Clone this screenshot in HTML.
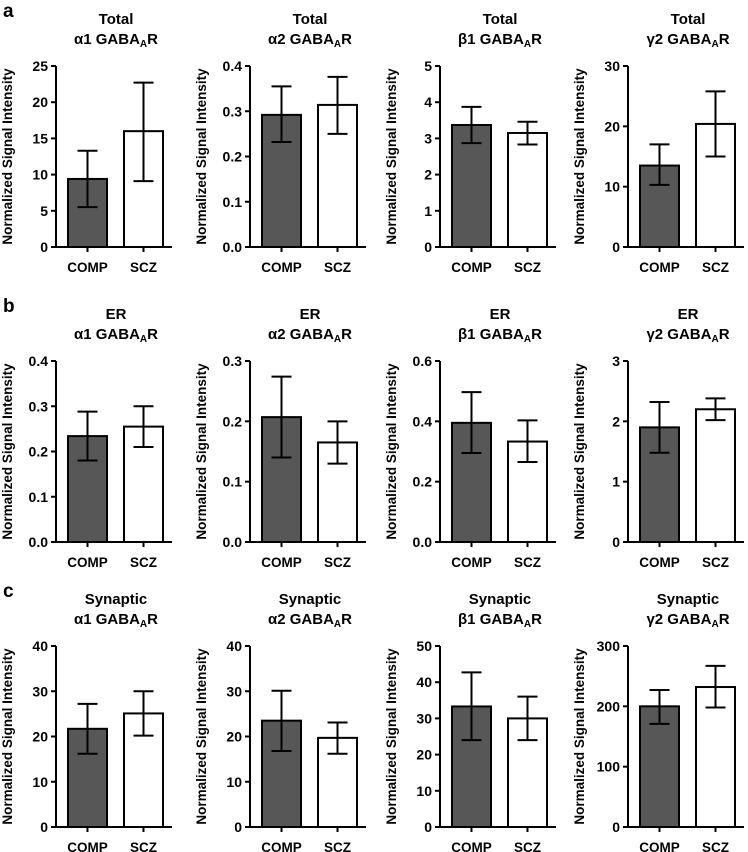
<!DOCTYPE html>
<html><head><meta charset="utf-8"><style>
body{margin:0;background:#fff;}
svg{display:block;font-family:"Liberation Sans",sans-serif;}
</style></head><body>
<svg id="fig" width="748" height="852" viewBox="0 0 748 852"></svg>
<script>
const rowTitles=["Total","ER","Synaptic"];
const subunits=["α1","α2","β1","γ2"];
const categories=["COMP","SCZ"];
const means=[[9.4,16],[0.292,0.314],[3.37,3.15],[13.5,20.4],
 [0.234,0.255],[0.207,0.165],[0.395,0.333],[1.9,2.2],
 [21.7,25.1],[23.5,19.7],[33.3,30],[200,232]];
const errLow=[[5.5,9.1],[0.232,0.25],[2.87,2.83],[10.3,15],
 [0.18,0.21],[0.14,0.13],[0.295,0.265],[1.48,2.02],
 [16.2,20.2],[16.8,16.2],[24,24],[171,198]];
const errHigh=[[13.3,22.7],[0.355,0.376],[3.87,3.46],[17,25.8],
 [0.288,0.3],[0.274,0.2],[0.497,0.403],[2.32,2.38],
 [27.2,30],[30.1,23.1],[42.7,36],[227,267]];
const yMax=[25,0.4,5,30,0.4,0.3,0.6,3,40,40,50,300];
const yStep=[5,0.1,1,10,0.1,0.1,0.2,1,10,10,10,100];
const yDec=[0,1,0,0,1,1,1,0,0,0,0,0];
const panelLetters=["a","b","c"];

const NS="http://www.w3.org/2000/svg";
const svg=document.getElementById('fig');
function mk(tag,attrs,parent){const e=document.createElementNS(NS,tag);for(const k in attrs)e.setAttribute(k,attrs[k]);(parent||svg).appendChild(e);return e;}
const axisX=[56,250,440,628];
const tops=[66,361,646];
const H=181;
panelLetters.forEach((l,r)=>{
 const t=mk('text',{x:3,y:tops[r]-49,'font-size':19,'font-weight':'bold'});
 
 
 t.textContent=l;
});
for(let r=0;r<3;r++)for(let c=0;c<4;c++){
 const i=r*4+c;const ax=axisX[c];const top=tops[r];const bot=top+H;
 const g=mk('g',{});
 
 
 const y=v=>bot-v/yMax[i]*H;
 const cx=ax+60;
 const t1=mk('text',{x:cx,y:top-42,'font-size':15,'font-weight':'bold','text-anchor':'middle'},g);
 
 
 t1.textContent=rowTitles[r];
 const t2=mk('text',{x:cx,y:top-22,'font-size':15,'font-weight':'bold','text-anchor':'middle'},g);
 
 
 t2.innerHTML=subunits[i%4]+' GABA<tspan font-size="10" dy="3">A</tspan><tspan dy="-3">R</tspan>';
 const yl=mk('text',{x:0,y:0,'font-size':13.5,'font-weight':'bold','text-anchor':'middle',transform:`translate(${ax-44},${(top+bot)/2}) rotate(-90)`},g);
 
 
 yl.textContent='Normalized Signal Intensity';
 mk('line',{x1:ax,y1:top,x2:ax,y2:bot+1,stroke:'#000','stroke-width':2},g);
 mk('line',{x1:ax-1,y1:bot,x2:ax+116,y2:bot,stroke:'#000','stroke-width':2},g);
 const n=Math.round(yMax[i]/yStep[i]);
 for(let k=0;k<=n;k++){const v=k*yStep[i];const yy=y(v);
  mk('line',{x1:ax-5,y1:yy,x2:ax,y2:yy,stroke:'#000','stroke-width':2},g);
  const tl=mk('text',{x:ax-8,y:yy+5,'font-size':14,'font-weight':'bold','text-anchor':'end'},g);
  
  
  tl.textContent=v.toFixed(yDec[i]);
 }
 categories.forEach((cat,j)=>{
  const x0=ax+12+j*56;const w=39;const bc=x0+w/2;
  const b=mk('rect',{x:x0,y:y(means[i][j]),width:w,height:bot-y(means[i][j]),fill:j==0?'#575757':'#fff',stroke:'#000','stroke-width':2},g);
  
  
  const e=mk('path',{d:`M${bc-10},${y(errHigh[i][j])}H${bc+10}M${bc},${y(errHigh[i][j])}V${y(errLow[i][j])}M${bc-10},${y(errLow[i][j])}H${bc+10}`,stroke:'#000','stroke-width':2,fill:'none'},g);
  
  
  mk('line',{x1:bc,y1:bot,x2:bc,y2:bot+5,stroke:'#000','stroke-width':2},g);
  const cl=mk('text',{x:bc,y:bot+25,'font-size':13.5,'font-weight':'bold','text-anchor':'middle'},g);
  
  
  cl.textContent=cat;
 });
}
</script>
</body></html>
